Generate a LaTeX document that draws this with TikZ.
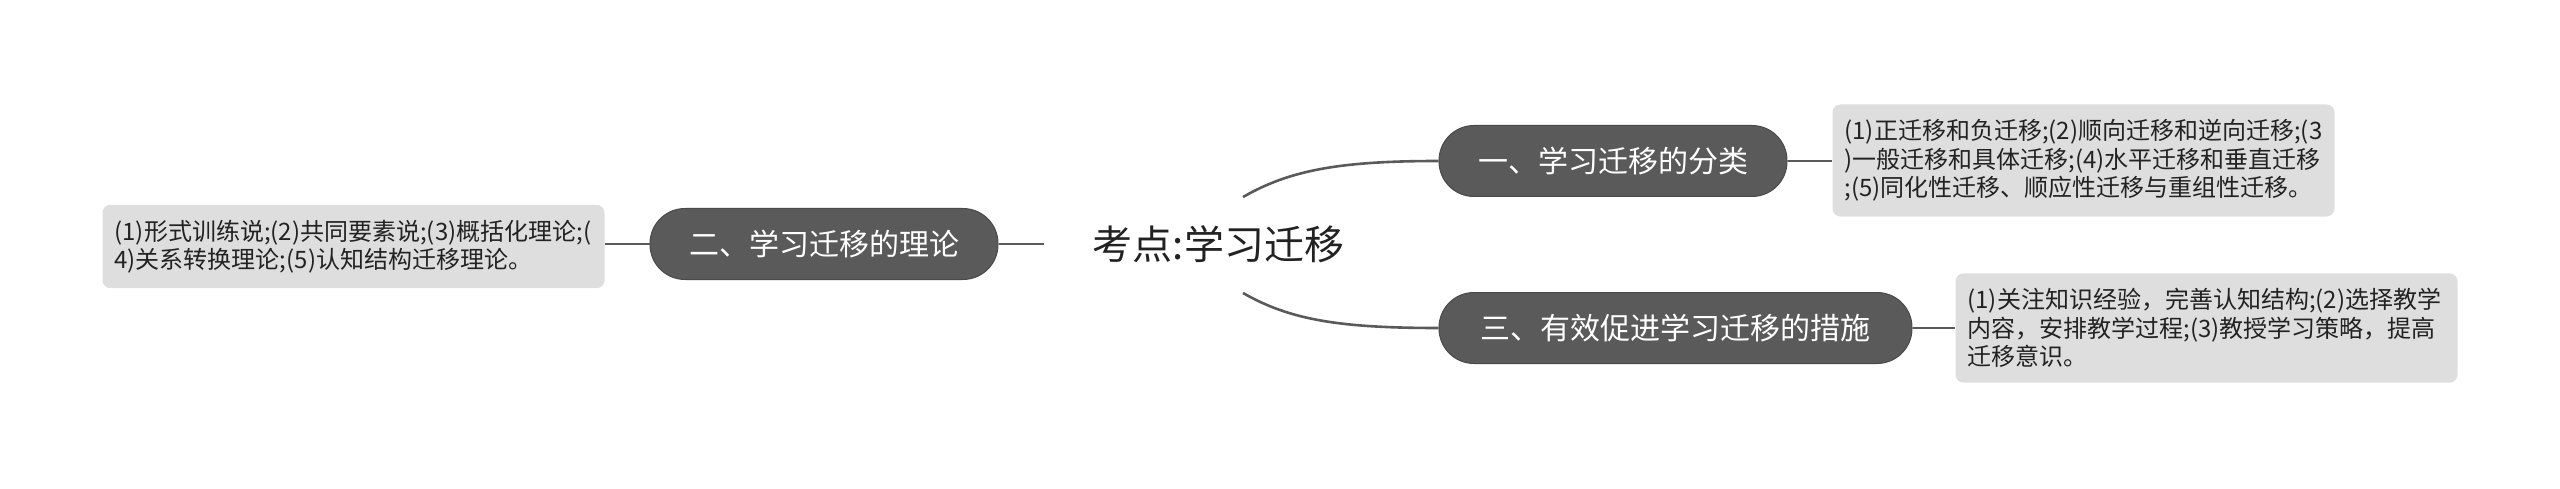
\documentclass[tikz,border=0pt]{standalone}
\usepackage{fontspec}
\setmainfont{Noto Sans CJK SC}
\definecolor{nodefill}{HTML}{5A5A5A}
\definecolor{nodeedge}{HTML}{4A4A4A}
\definecolor{leaffill}{HTML}{DEDEDE}
\definecolor{linecol}{HTML}{5A5A5A}
\definecolor{txt}{HTML}{222222}
\tikzset{
  branch/.style={rectangle, rounded corners=35pt, fill=nodefill, draw=nodeedge, line width=1pt,
    minimum height=71pt, text=white, inner sep=0pt,
    font={\fontsize{30}{36}\selectfont}},
  leafbox/.style={rectangle, rounded corners=8pt, fill=leaffill, text=txt,
    text width=478pt, inner xsep=12pt, inner ysep=15pt, align=left,
    font={\fontsize{24}{28.5}\selectfont}},
  topic/.style={inner xsep=49pt, inner ysep=10pt, text=txt,
    font={\fontsize{40}{46}\selectfont}},
  conn/.style={draw=linecol, line width=2.6pt},
}
\begin{document}
\begin{tikzpicture}[x=1pt,y=1pt]
\useasboundingbox (0,0) rectangle (2560,-489);
\node[topic] (c) at (1218.5,-244) {考点:学习迁移};
\coordinate (c1) at (1243,-197);
\coordinate (c3) at (1243,-293);
\node[branch, minimum width=348pt] (b2) at (824,-244) {二、学习迁移的理论};
\node[branch, minimum width=348pt] (b1) at (1613,-161) {一、学习迁移的分类};
\node[branch, minimum width=473pt] (b3) at (1675.5,-328) {三、有效促进学习迁移的措施};
\node[leafbox] (l2) at (353.5,-246.5) {(1)形式训练说;(2)共同要素说;(3)概括化理论;(\\4)关系转换理论;(5)认知结构迁移理论。};
\node[leafbox] (l1) at (2083.5,-160.5) {(1)正迁移和负迁移;(2)顺向迁移和逆向迁移;(3\\)一般迁移和具体迁移;(4)水平迁移和垂直迁移\\;(5)同化性迁移、顺应性迁移与重组性迁移。};
\node[leafbox] (l3) at (2206.5,-328) {(1)关注知识经验，完善认知结构;(2)选择教学\\内容，安排教学过程;(3)教授学习策略，提高\\迁移意识。};
\draw[conn] (c.west) -- (b2.east);
\draw[conn] (b2.west) -- (l2.east |- b2.west);
\draw[conn] (c1) .. controls (1290,-170) and (1340,-161) .. (b1.west);
\draw[conn] (c3) .. controls (1290,-320) and (1340,-328) .. (b3.west);
\draw[conn] (b1.east) -- (l1.west |- b1.east);
\draw[conn] (b3.east) -- (l3.west |- b3.east);
\end{tikzpicture}
\end{document}
